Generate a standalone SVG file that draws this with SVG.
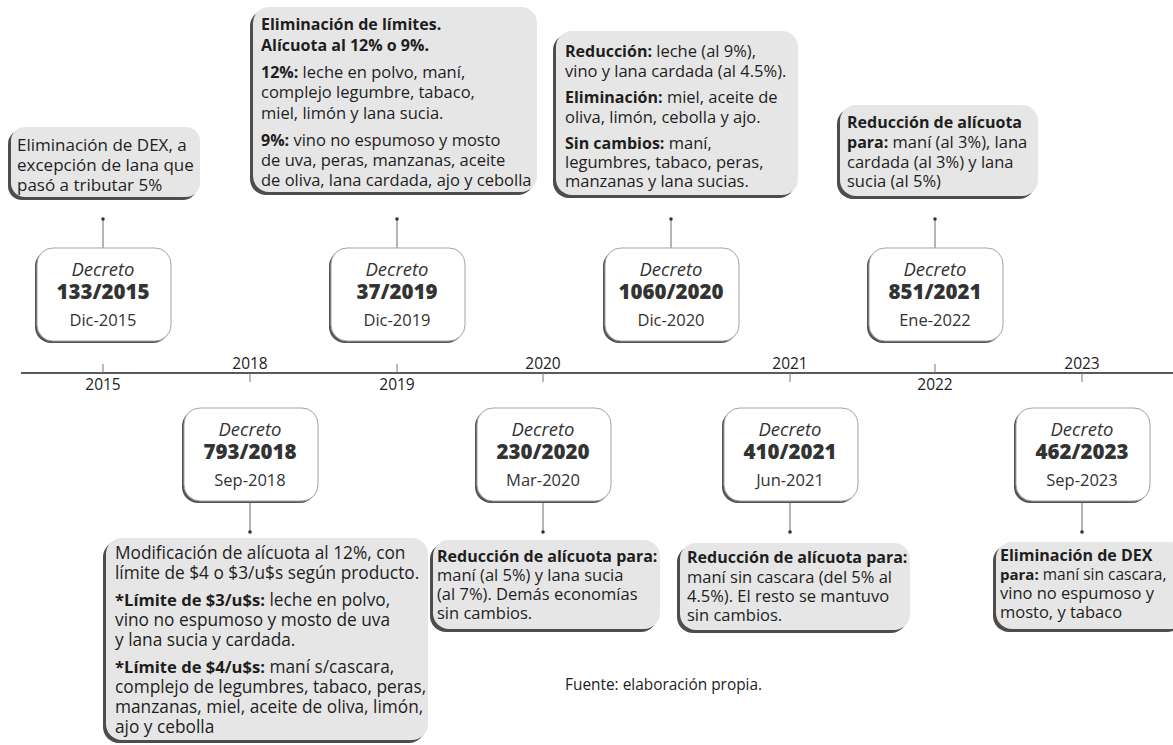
<svg xmlns="http://www.w3.org/2000/svg" width="1173" height="745" viewBox="0 0 1173 745">
<style>
.bg{fill:#ffffff}
.info{fill:#e6e6e6}
.ish{fill:#4d4d4d}
.dec{fill:#ffffff;stroke:#a3a3a3;stroke-width:1}
.dsh{fill:#555555}
.t{font-family:"Open Sans","Noto Sans",sans-serif;font-size:16.5px;fill:#1e1e1e}
.big{font-size:17.3px}
.b{font-weight:700;font-size:16px}
.big .b{font-size:16.6px}
.sm{font-size:15.5px}
.sm .b{font-size:15px}
.dt{font-family:"Open Sans","Noto Sans",sans-serif;font-style:italic;font-size:18.5px;fill:#333333;text-anchor:middle}
.dn{font-family:"Open Sans","Noto Sans",sans-serif;font-weight:800;font-size:20.5px;fill:#333333;text-anchor:middle}
.dd{font-family:"Open Sans","Noto Sans",sans-serif;font-size:16.5px;fill:#333333;text-anchor:middle}
.yr{font-family:"Open Sans","Noto Sans",sans-serif;font-size:15.5px;fill:#222222;text-anchor:middle}
.src{font-family:"Open Sans","Noto Sans",sans-serif;font-size:15.4px;fill:#222222}
.axis{stroke:#5a5a5a;stroke-width:2;fill:none}
.tick{stroke:#777777;stroke-width:1;fill:none}
.ln{stroke:#6a6a6a;stroke-width:1;fill:none}
.dot{fill:#333333}
</style>
<rect class="bg" x="0" y="0" width="1173" height="745"/>

<g id="connectors">
<line class="axis" x1="21" y1="373" x2="1173" y2="373"/>
<line class="tick" x1="103" y1="364" x2="103" y2="373"/>
<line class="tick" x1="250" y1="373" x2="250" y2="382"/>
<line class="tick" x1="397" y1="364" x2="397" y2="373"/>
<line class="tick" x1="543" y1="373" x2="543" y2="382"/>
<line class="tick" x1="790" y1="373" x2="790" y2="382"/>
<line class="tick" x1="935" y1="364" x2="935" y2="373"/>
<line class="tick" x1="1082" y1="373" x2="1082" y2="382"/>
<line class="ln" x1="103" y1="219" x2="103" y2="248"/><circle class="dot" cx="103" cy="219" r="1.8"/>
<line class="ln" x1="397" y1="219" x2="397" y2="248"/><circle class="dot" cx="397" cy="219" r="1.8"/>
<line class="ln" x1="671" y1="219" x2="671" y2="248"/><circle class="dot" cx="671" cy="219" r="1.8"/>
<line class="ln" x1="935" y1="219" x2="935" y2="248"/><circle class="dot" cx="935" cy="219" r="1.8"/>
<line class="ln" x1="250" y1="503" x2="250" y2="532"/><circle class="dot" cx="250" cy="532" r="1.8"/>
<line class="ln" x1="543" y1="503" x2="543" y2="532"/><circle class="dot" cx="543" cy="532" r="1.8"/>
<line class="ln" x1="790" y1="503" x2="790" y2="532"/><circle class="dot" cx="790" cy="532" r="1.8"/>
<line class="ln" x1="1082" y1="503" x2="1082" y2="532"/><circle class="dot" cx="1082" cy="532" r="1.8"/>
</g>

<g id="years">
<text class="yr" x="103" y="390">2015</text>
<text class="yr" x="250" y="369">2018</text>
<text class="yr" x="397" y="390">2019</text>
<text class="yr" x="543" y="369">2020</text>
<text class="yr" x="790" y="369">2021</text>
<text class="yr" x="935" y="390">2022</text>
<text class="yr" x="1082" y="369">2023</text>
</g>

<g id="dec-133-2015">
<rect class="dsh" x="35" y="250" width="134" height="93" rx="16"/>
<rect class="dec" x="37" y="248" width="134" height="93" rx="16"/>
<text class="dt" x="103" y="276">Decreto</text>
<text class="dn" x="103" y="299">133/2015</text>
<text class="dd" x="103" y="326">Dic-2015</text>
</g>
<g id="dec-37-2019">
<rect class="dsh" x="329" y="250" width="134" height="93" rx="16"/>
<rect class="dec" x="331" y="248" width="134" height="93" rx="16"/>
<text class="dt" x="397" y="276">Decreto</text>
<text class="dn" x="397" y="299">37/2019</text>
<text class="dd" x="397" y="326">Dic-2019</text>
</g>
<g id="dec-1060-2020">
<rect class="dsh" x="603" y="250" width="134" height="93" rx="16"/>
<rect class="dec" x="605" y="248" width="134" height="93" rx="16"/>
<text class="dt" x="671" y="276">Decreto</text>
<text class="dn" x="671" y="299">1060/2020</text>
<text class="dd" x="671" y="326">Dic-2020</text>
</g>
<g id="dec-851-2021">
<rect class="dsh" x="867" y="250" width="134" height="93" rx="16"/>
<rect class="dec" x="869" y="248" width="134" height="93" rx="16"/>
<text class="dt" x="935" y="276">Decreto</text>
<text class="dn" x="935" y="299">851/2021</text>
<text class="dd" x="935" y="326">Ene-2022</text>
</g>
<g id="dec-793-2018">
<rect class="dsh" x="182" y="410" width="134" height="93" rx="16"/>
<rect class="dec" x="184" y="408" width="134" height="93" rx="16"/>
<text class="dt" x="250" y="436">Decreto</text>
<text class="dn" x="250" y="459">793/2018</text>
<text class="dd" x="250" y="486">Sep-2018</text>
</g>
<g id="dec-230-2020">
<rect class="dsh" x="475" y="410" width="134" height="93" rx="16"/>
<rect class="dec" x="477" y="408" width="134" height="93" rx="16"/>
<text class="dt" x="543" y="436">Decreto</text>
<text class="dn" x="543" y="459">230/2020</text>
<text class="dd" x="543" y="486">Mar-2020</text>
</g>
<g id="dec-410-2021">
<rect class="dsh" x="722" y="410" width="134" height="93" rx="16"/>
<rect class="dec" x="724" y="408" width="134" height="93" rx="16"/>
<text class="dt" x="790" y="436">Decreto</text>
<text class="dn" x="790" y="459">410/2021</text>
<text class="dd" x="790" y="486">Jun-2021</text>
</g>
<g id="dec-462-2023">
<rect class="dsh" x="1014" y="410" width="134" height="93" rx="16"/>
<rect class="dec" x="1016" y="408" width="134" height="93" rx="16"/>
<text class="dt" x="1082" y="436">Decreto</text>
<text class="dn" x="1082" y="459">462/2023</text>
<text class="dd" x="1082" y="486">Sep-2023</text>
</g>

<g id="info-2015">
<rect class="ish" x="8" y="130" width="189" height="70" rx="14"/>
<rect class="info" x="11" y="127" width="189" height="70" rx="14"/>
<text class="t" x="17" y="151" style="font-size:17px">Eliminación de DEX, a</text>
<text class="t" x="17" y="171" style="font-size:17px">excepción de lana que</text>
<text class="t" x="17" y="191" style="font-size:17px">pasó a tributar 5%</text>
</g>
<g id="info-2019">
<rect class="ish" x="250" y="10" width="284" height="185" rx="16"/>
<rect class="info" x="253" y="7" width="284" height="185" rx="16"/>
<text class="t" x="261" y="30"><tspan class="b">Eliminación de límites.</tspan></text>
<text class="t" x="261" y="51"><tspan class="b">Alícuota al 12% o 9%.</tspan></text>
<text class="t" x="261" y="78"><tspan class="b">12%:</tspan> leche en polvo, maní,</text>
<text class="t" x="261" y="98">complejo legumbre, tabaco,</text>
<text class="t" x="261" y="119">miel, limón y lana sucia.</text>
<text class="t" x="261" y="146"><tspan class="b">9%:</tspan> vino no espumoso y mosto</text>
<text class="t" x="261" y="166">de uva, peras, manzanas, aceite</text>
<text class="t" x="261" y="186">de oliva, lana cardada, ajo y cebolla</text>
</g>
<g id="info-1060">
<rect class="ish" x="553" y="34" width="242" height="164" rx="16"/>
<rect class="info" x="556" y="31" width="242" height="164" rx="16"/>
<text class="t" x="565" y="57"><tspan class="b">Reducción:</tspan> leche (al 9%),</text>
<text class="t" x="565" y="77">vino y lana cardada (al 4.5%).</text>
<text class="t" x="565" y="103"><tspan class="b">Eliminación:</tspan> miel, aceite de</text>
<text class="t" x="565" y="123">oliva, limón, cebolla y ajo.</text>
<text class="t" x="565" y="149"><tspan class="b">Sin cambios:</tspan> maní,</text>
<text class="t" x="565" y="168">legumbres, tabaco, peras,</text>
<text class="t" x="565" y="187">manzanas y lana sucias.</text>
</g>
<g id="info-851">
<rect class="ish" x="837" y="108" width="198" height="91" rx="16"/>
<rect class="info" x="840" y="105" width="198" height="91" rx="16"/>
<text class="t" x="847" y="128"><tspan class="b">Reducción de alícuota</tspan></text>
<text class="t" x="847" y="148"><tspan class="b">para:</tspan> maní (al 3%), lana</text>
<text class="t" x="847" y="168">cardada (al 3%) y lana</text>
<text class="t" x="847" y="187">sucia (al 5%)</text>
</g>
<g id="info-793">
<rect class="ish" x="103" y="541" width="322" height="202" rx="16"/>
<rect class="info" x="106" y="538" width="322" height="202" rx="16"/>
<text class="t big" x="115" y="559">Modificación de alícuota al 12%, con</text>
<text class="t big" x="115" y="579">límite de $4 o $3/u$s según producto.</text>
<text class="t big" x="115" y="606"><tspan class="b">*Límite de $3/u$s:</tspan> leche en polvo,</text>
<text class="t big" x="115" y="626">vino no espumoso y mosto de uva</text>
<text class="t big" x="115" y="646">y lana sucia y cardada.</text>
<text class="t big" x="115" y="673"><tspan class="b">*Límite de $4/u$s:</tspan> maní s/cascara,</text>
<text class="t big" x="115" y="693">complejo de legumbres, tabaco, peras,</text>
<text class="t big" x="115" y="713">manzanas, miel, aceite de oliva, limón,</text>
<text class="t big" x="115" y="733">ajo y cebolla</text>
</g>
<g id="info-230">
<rect class="ish" x="430" y="543" width="227" height="89" rx="16"/>
<rect class="info" x="433" y="540" width="227" height="89" rx="16"/>
<text class="t" x="437" y="562"><tspan class="b">Reducción de alícuota para:</tspan></text>
<text class="t" x="437" y="581">maní (al 5%) y lana sucia</text>
<text class="t" x="437" y="600">(al 7%). Demás economías</text>
<text class="t" x="437" y="619">sin cambios.</text>
</g>
<g id="info-410">
<rect class="ish" x="677" y="546" width="230" height="87" rx="16"/>
<rect class="info" x="680" y="543" width="230" height="87" rx="16"/>
<text class="t" x="687" y="563"><tspan class="b">Reducción de alícuota para:</tspan></text>
<text class="t" x="687" y="583">maní sin cascara (del 5% al</text>
<text class="t" x="687" y="602">4.5%). El resto se mantuvo</text>
<text class="t" x="687" y="621">sin cambios.</text>
</g>
<g id="info-462">
<rect class="ish" x="993" y="545" width="190" height="87" rx="16"/>
<rect class="info" x="996" y="542" width="190" height="87" rx="16"/>
<text class="t" x="1000" y="561"><tspan class="b">Eliminación de DEX</tspan></text>
<text class="t sm" x="1000" y="580"><tspan class="b">para:</tspan> maní sin cascara,</text>
<text class="t" x="1000" y="599">vino no espumoso y</text>
<text class="t" x="1000" y="618">mosto, y tabaco</text>
</g>

<text class="src" x="565" y="690">Fuente: elaboración propia.</text>
</svg>
